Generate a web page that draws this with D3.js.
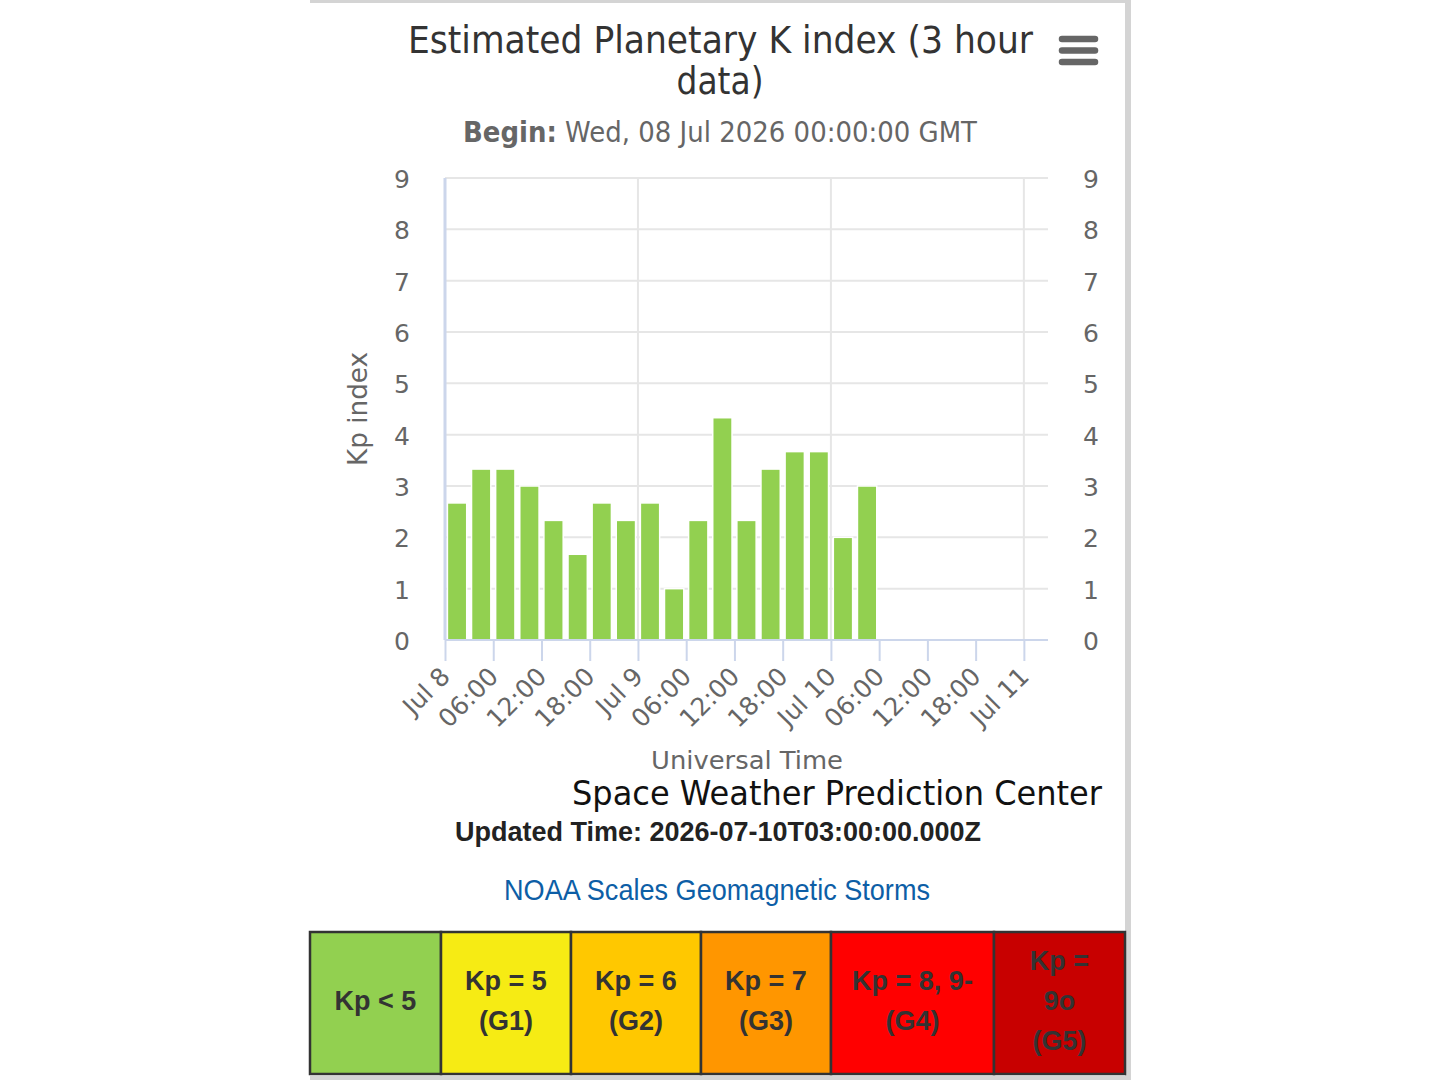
<!DOCTYPE html>
<html>
<head>
<meta charset="utf-8">
<script src="https://cdn.jsdelivr.net/npm/d3@7"></script>
<style>
  body { margin: 0; background: #fff; }
  svg { display: block; }
</style>
</head>
<body>
<div id="chart"></div>
<script>
// 3-hour interval starts (UTC) and estimated Kp for each
const kpTimes = [
  "2026-07-08T00:00:00Z", "2026-07-08T03:00:00Z", "2026-07-08T06:00:00Z", "2026-07-08T09:00:00Z",
  "2026-07-08T12:00:00Z", "2026-07-08T15:00:00Z", "2026-07-08T18:00:00Z", "2026-07-08T21:00:00Z",
  "2026-07-09T00:00:00Z", "2026-07-09T03:00:00Z", "2026-07-09T06:00:00Z", "2026-07-09T09:00:00Z",
  "2026-07-09T12:00:00Z", "2026-07-09T15:00:00Z", "2026-07-09T18:00:00Z", "2026-07-09T21:00:00Z",
  "2026-07-10T00:00:00Z", "2026-07-10T03:00:00Z"
];
const kpValues = [2.67, 3.33, 3.33, 3.00, 2.33, 1.67, 2.67, 2.33, 2.67, 1.00, 2.33, 4.33, 2.33, 3.33, 3.67, 3.67, 2.00, 3.00];

const xStart = "2026-07-08T00:00:00Z";
const xEnd = "2026-07-11T03:00:00Z";
const yTicks = [0, 1, 2, 3, 4, 5, 6, 7, 8, 9];

const scaleLabels = [["Kp < 5"], ["Kp = 5", "(G1)"], ["Kp = 6", "(G2)"], ["Kp = 7", "(G3)"], ["Kp = 8, 9-", "(G4)"], ["Kp =", "9o", "(G5)"]];
const scaleColors = ["#92d050", "#f6eb14", "#ffc800", "#ff9600", "#ff0000", "#c80000"];
const scaleEdges = [310, 441, 571, 701, 831, 994, 1125];

const W = 1440, H = 1080;
const plot = {left: 445, right: 1048, top: 178, bottom: 640};
const lucida = "'DejaVu Sans', 'Lucida Grande', sans-serif";
const arial = "'Liberation Sans', Arial, sans-serif";

const svg = d3.select("#chart").append("svg")
    .attr("width", W)
    .attr("height", H);

// page frame
svg.append("rect").attr("x", 310).attr("y", 0).attr("width", 821).attr("height", 3).attr("fill", "#d4d4d4");
svg.append("rect").attr("x", 1125).attr("y", 0).attr("width", 6).attr("height", H).attr("fill", "#d4d4d4");
svg.append("rect").attr("x", 310).attr("y", 1076).attr("width", 821).attr("height", 4).attr("fill", "#d4d4d4");

const x = d3.scaleUtc()
    .domain([new Date(xStart), new Date(xEnd)])
    .range([plot.left, plot.right]);

const y = d3.scaleLinear()
    .domain([0, 9])
    .range([plot.bottom, plot.top]);

// horizontal grid
svg.append("g")
  .selectAll("line")
  .data(yTicks.slice(1))
  .join("line")
    .attr("x1", plot.left).attr("x2", plot.right)
    .attr("y1", d => y(d)).attr("y2", d => y(d))
    .attr("stroke", "#e6e6e6").attr("stroke-width", 2);

// vertical grid on day boundaries
svg.append("g")
  .selectAll("line")
  .data(d3.utcDay.range(new Date("2026-07-09T00:00:00Z"), new Date(xEnd)))
  .join("line")
    .attr("x1", d => x(d)).attr("x2", d => x(d))
    .attr("y1", plot.top).attr("y2", plot.bottom)
    .attr("stroke", "#e6e6e6").attr("stroke-width", 2);

// bars
const step = x(new Date("2026-07-08T03:00:00Z")) - x(new Date(xStart));
const barW = step * 0.8;
svg.append("g")
  .selectAll("rect")
  .data(kpValues)
  .join("rect")
    .attr("x", (d, i) => x(d3.utcMinute.offset(new Date(kpTimes[i]), 90)) - barW / 2)
    .attr("y", d => y(d))
    .attr("width", barW)
    .attr("height", d => y(0) - y(d))
    .attr("fill", "#92d050")
    .attr("stroke", "#fff")
    .attr("stroke-width", 1.5);

// x axis
const xAxis = d3.axisBottom(x)
    .ticks(d3.utcHour.every(6))
    .tickSize(21)
    .tickFormat(d => d.getUTCHours() === 0 ? d3.utcFormat("%b %-d")(d) : d3.utcFormat("%H:%M")(d));

const gx = svg.append("g")
    .attr("transform", `translate(0,${plot.bottom})`)
    .call(xAxis);
gx.select(".domain").attr("stroke", "#ccd6eb").attr("stroke-width", 2).attr("d", `M${plot.left},0H${plot.right}`);
gx.selectAll(".tick line").attr("stroke", "#ccd6eb").attr("stroke-width", 2);
gx.selectAll(".tick text")
    .attr("font-family", lucida)
    .attr("font-size", 25)
    .attr("fill", "#666")
    .attr("text-anchor", "end")
    .attr("dy", null)
    .attr("y", null)
    .attr("transform", "translate(6,38) rotate(-45)");

// left axis line
svg.append("line")
    .attr("x1", plot.left).attr("x2", plot.left)
    .attr("y1", plot.top).attr("y2", plot.bottom)
    .attr("stroke", "#ccd6eb").attr("stroke-width", 3);

// y axes, both sides
const gyl = svg.append("g")
    .attr("transform", `translate(${plot.left},0)`)
    .call(d3.axisLeft(y).tickValues(yTicks).tickSize(0).tickPadding(35));
const gyr = svg.append("g")
    .attr("transform", `translate(${plot.right},0)`)
    .call(d3.axisRight(y).tickValues(yTicks).tickSize(0).tickPadding(35));
[gyl, gyr].forEach(g => {
  g.select(".domain").remove();
  g.selectAll(".tick text")
      .attr("font-family", lucida)
      .attr("font-size", 25)
      .attr("fill", "#666")
      .attr("dy", "0.38em");
});

// axis titles
svg.append("text")
    .attr("transform", "translate(367,409) rotate(-90)")
    .attr("text-anchor", "middle")
    .attr("font-family", lucida)
    .attr("font-size", 27)
    .attr("fill", "#666")
    .attr("textLength", 114)
    .attr("lengthAdjust", "spacingAndGlyphs")
    .text("Kp index");

svg.append("text")
    .attr("x", 747).attr("y", 769)
    .attr("text-anchor", "middle")
    .attr("font-family", lucida)
    .attr("font-size", 24)
    .attr("fill", "#666")
    .attr("textLength", 192)
    .attr("lengthAdjust", "spacingAndGlyphs")
    .text("Universal Time");

// title and subtitle
svg.append("text")
    .attr("x", 408).attr("y", 53)
    .attr("font-family", lucida)
    .attr("font-size", 37)
    .attr("fill", "#333")
    .attr("textLength", 625)
    .attr("lengthAdjust", "spacingAndGlyphs")
    .text("Estimated Planetary K index (3 hour");
svg.append("text")
    .attr("x", 720).attr("y", 94)
    .attr("text-anchor", "middle")
    .attr("font-family", lucida)
    .attr("font-size", 37)
    .attr("fill", "#333")
    .attr("textLength", 87)
    .attr("lengthAdjust", "spacingAndGlyphs")
    .text("data)");

const sub = svg.append("text")
    .attr("x", 463).attr("y", 142)
    .attr("font-family", lucida)
    .attr("font-size", 28)
    .attr("fill", "#666")
    .attr("textLength", 514)
    .attr("lengthAdjust", "spacingAndGlyphs");
sub.append("tspan").attr("font-weight", "bold").text("Begin:");
sub.append("tspan").text(" Wed, 08 Jul 2026 00:00:00 GMT");

// menu icon
svg.append("g")
  .selectAll("line")
  .data([39, 50.5, 62])
  .join("line")
    .attr("x1", 1062).attr("x2", 1095)
    .attr("y1", d => d).attr("y2", d => d)
    .attr("stroke", "#666").attr("stroke-width", 6.5).attr("stroke-linecap", "round");

// credits and notes
svg.append("text")
    .attr("x", 572).attr("y", 805)
    .attr("font-family", lucida)
    .attr("font-size", 34)
    .attr("fill", "#111")
    .attr("textLength", 530)
    .attr("lengthAdjust", "spacingAndGlyphs")
    .text("Space Weather Prediction Center");

svg.append("text")
    .attr("x", 455).attr("y", 841)
    .attr("font-family", arial)
    .attr("font-weight", "bold")
    .attr("font-size", 28)
    .attr("fill", "#222")
    .attr("textLength", 526)
    .attr("lengthAdjust", "spacingAndGlyphs")
    .text("Updated Time: 2026-07-10T03:00:00.000Z");

svg.append("text")
    .attr("x", 504).attr("y", 900)
    .attr("font-family", arial)
    .attr("font-size", 29)
    .attr("fill", "#0d5ea6")
    .attr("textLength", 426)
    .attr("lengthAdjust", "spacingAndGlyphs")
    .text("NOAA Scales Geomagnetic Storms");

// NOAA scale table
const tTop = 932, tBot = 1074, tMid = (tTop + tBot) / 2;
const cells = svg.append("g")
  .selectAll("g")
  .data(scaleLabels)
  .join("g");
cells.append("rect")
    .attr("x", (d, i) => scaleEdges[i])
    .attr("y", tTop)
    .attr("width", (d, i) => scaleEdges[i + 1] - scaleEdges[i])
    .attr("height", tBot - tTop)
    .attr("fill", (d, i) => scaleColors[i])
    .attr("stroke", "#333")
    .attr("stroke-width", 2.5);
cells.each(function(lines, i) {
  const cx = (scaleEdges[i] + scaleEdges[i + 1]) / 2;
  const t = d3.select(this).append("text")
      .attr("text-anchor", "middle")
      .attr("font-family", arial)
      .attr("font-weight", "bold")
      .attr("font-size", 27)
      .attr("fill", "#333");
  lines.forEach((s, k) => {
    t.append("tspan")
        .attr("x", cx)
        .attr("y", tMid + 7 + (k - (lines.length - 1) / 2) * 40)
        .text(s);
  });
});
</script>
</body>
</html>
